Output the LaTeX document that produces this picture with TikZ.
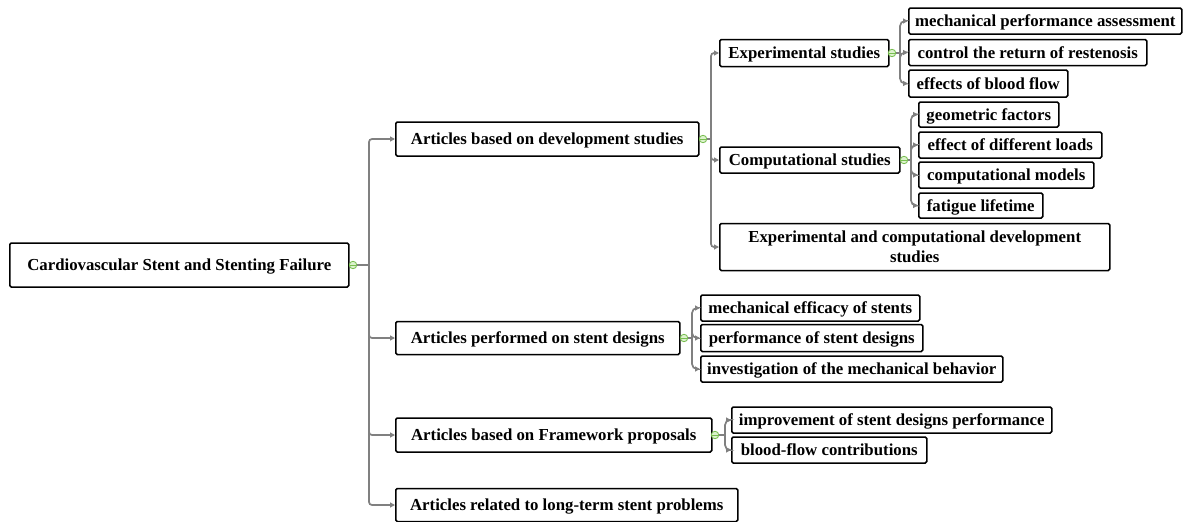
\documentclass[tikz,border=0pt]{standalone}
\usepackage{fontspec}
\setmainfont{Liberation Serif}
\usetikzlibrary{arrows.meta}
\definecolor{lc}{RGB}{128,128,128}
\definecolor{gc}{RGB}{120,190,80}
\definecolor{gf}{RGB}{220,242,205}
\begin{document}
\begin{tikzpicture}[x=1pt,y=-1pt,
 box/.style={draw=black, line width=1.5pt, rounded corners=1.5pt, inner sep=0pt, align=center,
   text height=11.5pt, text depth=0pt,
   font=\fontsize{16.8}{20}\selectfont\bfseries, anchor=west},
 conn/.style={draw=lc, line width=1.7pt},
 arr/.style={conn, rounded corners=#1, -{Triangle[length=5pt,width=5pt]}},
 arr/.default=3pt,
 tog/.style={circle, draw=gc, fill=gf, line width=0.8pt, minimum size=7.5pt, inner sep=0pt,
   path picture={\draw[gc, line width=0.7pt] ([xshift=-2.6pt]path picture bounding box.center) -- ([xshift=2.6pt]path picture bounding box.center);}}]
\useasboundingbox (0,0) rectangle (1184,522);

% root
\node[box, minimum width=339pt, minimum height=44pt] (R) at (9,265) {Cardiovascular Stent and Stenting Failure};
\node[tog] (cR) at (353,265) {};

% level 1
\node[box, minimum width=303pt, minimum height=34pt] (A1) at (395,139) {Articles based on development studies};
\node[box, minimum width=284pt, minimum height=33pt] (A2) at (395,338) {Articles performed on stent designs};
\node[box, minimum width=316pt, minimum height=34pt] (A3) at (395,435) {Articles based on Framework proposals};
\node[box, minimum width=342pt, minimum height=33pt] (A4) at (395,505) {Articles related to long-term stent problems};

\node[tog] (cA1) at (703,139) {};
\node[tog] (cA2) at (684,338) {};
\node[tog] (cA3) at (715,435) {};

% level 2 (development)
\node[box, minimum width=169pt, minimum height=27pt] (B1) at (719,53) {Experimental studies};
\node[box, minimum width=180pt, minimum height=26pt] (B2) at (719,160) {Computational studies};
\node[box, text height={}, text depth={}, minimum width=390pt, minimum height=47pt] (B3) at (719,247) {Experimental and computational development\\studies};

\node[tog] (cB1) at (892,53) {};
\node[tog] (cB2) at (904,160) {};

% level 3 experimental
\node[box, minimum width=273pt, minimum height=26pt] (C1) at (908,21) {mechanical performance assessment};
\node[box, minimum width=238pt, minimum height=26pt] (C2) at (908,52.5) {control the return of restenosis};
\node[box, minimum width=159pt, minimum height=27pt] (C3) at (908,83.5) {effects of blood flow};

% level 3 computational
\node[box, minimum width=140pt, minimum height=25pt] (D1) at (918,114.5) {geometric factors};
\node[box, minimum width=183pt, minimum height=26pt] (D2) at (918,145) {effect of different loads};
\node[box, minimum width=175pt, minimum height=26pt] (D3) at (918,175) {computational models};
\node[box, minimum width=124pt, minimum height=25pt] (D4) at (918,205.5) {fatigue lifetime};

% stent designs
\node[box, minimum width=219pt, minimum height=26pt] (E1) at (700,308) {mechanical efficacy of stents};
\node[box, minimum width=222pt, minimum height=27pt] (E2) at (700,338) {performance of stent designs};
\node[box, minimum width=302pt, minimum height=26pt] (E3) at (700,369) {investigation of the mechanical behavior};

% framework
\node[box, minimum width=320pt, minimum height=26pt] (F1) at (731,420) {improvement of stent designs performance};
\node[box, minimum width=195pt, minimum height=26pt] (F2) at (731,450) {blood-flow contributions};

% trunk coordinates
\coordinate (tR) at (369,265);
\coordinate (tA1) at (711,139);
\coordinate (tA2) at (692,338);
\coordinate (tA3) at (725,435);
\coordinate (tB1) at (900,53);
\coordinate (tB2) at (911,160);

% connectors
\draw[conn] (cR.east) -- (tR);
\foreach \c in {A1,A2,A3,A4} \draw[arr] (tR) |- (\c.west);

\draw[conn] (cA1.east) -- (tA1);
\foreach \c in {B1,B2,B3} \draw[arr] (tA1) |- (\c.west);

\draw[conn] (cB1.east) -- (tB1);
\foreach \c in {C1,C2,C3} \draw[arr=5pt] (tB1) |- (\c.west);

\draw[conn] (cB2.east) -- (tB2);
\foreach \c in {D1,D2,D3,D4} \draw[arr=5pt] (tB2) |- (\c.west);

\draw[conn] (cA2.east) -- (tA2);
\foreach \c in {E1,E2,E3} \draw[arr=5pt] (tA2) |- (\c.west);

\draw[conn] (cA3.east) -- (tA3);
\foreach \c in {F1,F2} \draw[arr=5pt] (tA3) |- (\c.west);
\end{tikzpicture}
\end{document}
